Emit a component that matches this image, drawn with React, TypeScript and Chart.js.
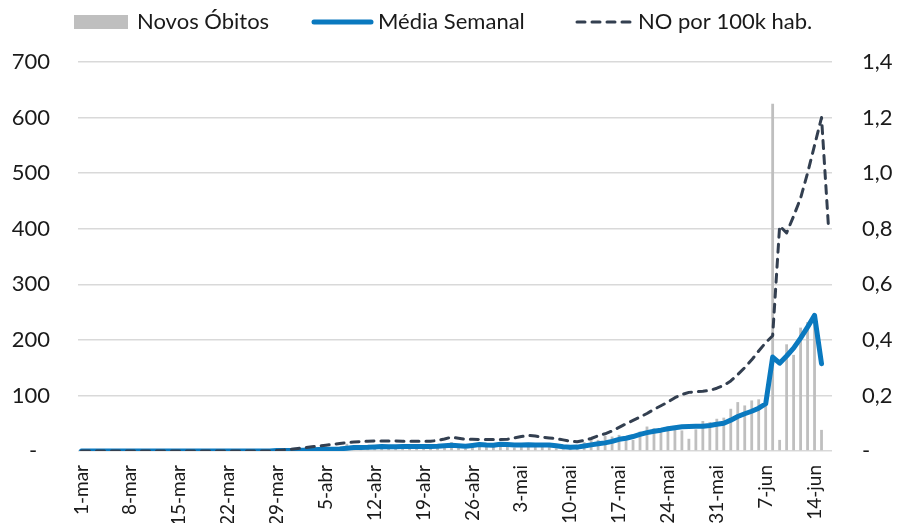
import React, { useEffect, useRef } from "react";
import { Chart, registerables } from "chart.js";

Chart.register(...registerables);

// Categories: daily, 1-mar .. 16-jun
const MONTHS: [string, number][] = [["mar", 31], ["abr", 30], ["mai", 31], ["jun", 16]];
const CATEGORIES: string[] = [];
for (const [m, n] of MONTHS) for (let d = 1; d <= n; d++) CATEGORIES.push(`${d}-${m}`);

// Novos Óbitos (1-mar .. 15-jun)
const NOVOS_OBITOS: (number | null)[] = [
  0, 0, 0, 0, 0, 0, 0, 0, 0, 0,
  0, 0, 0, 0, 0, 0, 0, 0, 0, 0,
  0, 1, 0, 1, 0, 0, 1, 1, 2, 0,
  2, 3, 2, 4, 4, 5, 3, 5, 13, 7,
  5, 9, 8, 10, 4, 6, 10, 11, 6, 9,
  8, 9, 12, 16, 6, 4, 11, 14, 13, 9,
  16, 11, 6, 12, 13, 8, 9, 7, 5, 3,
  4, 9, 16, 22, 20, 27, 26, 29, 19, 20,
  35, 44, 41, 38, 44, 40, 37, 22, 39, 54,
  52, 58, 60, 76, 88, 82, 91, 93, 92, 625,
  20, 192, 173, 222, 232, 238, 38, null,
];

// Média Semanal (1-mar .. 15-jun)
const MEDIA_SEMANAL: (number | null)[] = [
  0, 0, 0, 0, 0, 0, 0, 0, 0, 0,
  0, 0, 0, 0, 0, 0, 0, 0, 0, 0,
  0, 0, 0, 0, 0, 0, 0, 0, 0.7, 0.7,
  1, 1.4, 1.7, 2.3, 2.6, 3.1, 3.3, 3.7, 5.1, 6.1,
  6.3, 6.7, 7.4, 7.9, 7.6, 7.6, 8, 8, 8, 8.1,
  8.1, 8.4, 9.3, 10.4, 9.6, 8.6, 10, 11.6, 10.6, 10.4,
  12, 11.6, 11, 11, 11.4, 11, 10.9, 10.6, 9.3, 7.6,
  6.9, 7, 8.9, 11, 12.9, 14.6, 17.3, 21, 23, 26,
  30, 33, 35.5, 37.5, 40, 42, 43.5, 44, 44.5, 44.5,
  46, 48, 50, 55.5, 62, 67, 71.5, 77, 85, 169,
  158, 171, 185, 203, 223, 244, 157, null,
];

// NO por 100k hab. (1-mar .. 16-jun)
const NO_100K: number[] = [
  0, 0, 0, 0, 0, 0, 0, 0, 0, 0,
  0, 0, 0, 0, 0, 0, 0, 0, 0, 0,
  0, 0, 0, 0, 0, 0, 0, 0, 0.002, 0.004,
  0.006, 0.009, 0.012, 0.015, 0.018, 0.021, 0.024, 0.027, 0.03, 0.032,
  0.034, 0.035, 0.036, 0.036, 0.036, 0.036, 0.035, 0.035, 0.035, 0.035,
  0.035, 0.038, 0.043, 0.05, 0.046, 0.042, 0.042, 0.041, 0.041, 0.041,
  0.041, 0.042, 0.047, 0.052, 0.056, 0.054, 0.05, 0.047, 0.044, 0.04,
  0.035, 0.033, 0.038, 0.045, 0.055, 0.062, 0.072, 0.085, 0.098, 0.11,
  0.122, 0.135, 0.15, 0.163, 0.176, 0.192, 0.203, 0.211, 0.213, 0.215,
  0.218, 0.226, 0.236, 0.252, 0.275, 0.3, 0.328, 0.36, 0.39, 0.415,
  0.81, 0.785, 0.845, 0.91, 1.0, 1.1, 1.2, 0.805,
];

const LEFT_MAX = 700;
const LEFT_STEP = 100;
const RIGHT_MAX = 1.4;
const RIGHT_STEP = 0.2;
const TICK_EVERY = 7;

const BAR_COLOR = "#BFBFBF";
const BLUE = "#0A79BF";
const DARK = "#333F50";
const TEXT = "#1a1a1a";
const GRID = "#D9D9D9";
const FONT = "Lato";

const W = 899;
const H = 540;

const legendPlugin = {
  id: "customLegend",
  afterDraw(chart: any) {
    const ctx = chart.ctx as CanvasRenderingContext2D;
    const ds = chart.data.datasets;
    const y = 22;
    ctx.save();
    ctx.font = `22px ${FONT}`;
    ctx.textBaseline = "middle";
    ctx.textAlign = "left";
    // Novos Óbitos swatch
    ctx.fillStyle = BAR_COLOR;
    ctx.fillRect(74, y - 7, 54, 14);
    ctx.fillStyle = TEXT;
    ctx.fillText(ds[2].label, 137, y);
    // Média Semanal swatch
    ctx.strokeStyle = BLUE;
    ctx.lineWidth = 5;
    ctx.lineCap = "round";
    ctx.beginPath();
    ctx.moveTo(314, y);
    ctx.lineTo(371, y);
    ctx.stroke();
    ctx.fillText(ds[1].label, 378, y);
    // NO por 100k swatch
    ctx.strokeStyle = DARK;
    ctx.lineWidth = 3;
    ctx.lineCap = "round";
    ctx.setLineDash([8, 7]);
    ctx.beginPath();
    ctx.moveTo(577, y);
    ctx.lineTo(633, y);
    ctx.stroke();
    ctx.setLineDash([]);
    ctx.fillText(ds[0].label, 638, y);
    ctx.restore();
  },
};

export default function App() {
  const ref = useRef<HTMLCanvasElement | null>(null);

  useEffect(() => {
    if (!ref.current) return;
    const chart = new Chart(ref.current, {
      type: "bar",
      data: {
        labels: CATEGORIES,
        datasets: [
          {
            type: "line",
            label: "NO por 100k hab.",
            data: NO_100K,
            yAxisID: "y1",
            borderColor: DARK,
            borderWidth: 3,
            borderDash: [8, 7],
            borderCapStyle: "round",
            borderJoinStyle: "round",
            pointRadius: 0,
            tension: 0,
            order: 0,
          } as any,
          {
            type: "line",
            label: "Média Semanal",
            data: MEDIA_SEMANAL,
            yAxisID: "y",
            borderColor: BLUE,
            borderWidth: 5,
            borderCapStyle: "round",
            borderJoinStyle: "round",
            pointRadius: 0,
            tension: 0,
            order: 1,
          } as any,
          {
            type: "bar",
            label: "Novos Óbitos",
            data: NOVOS_OBITOS,
            yAxisID: "y",
            backgroundColor: BAR_COLOR,
            barPercentage: 0.4,
            categoryPercentage: 1,
            order: 2,
          } as any,
        ],
      },
      options: {
        responsive: false,
        animation: false,
        layout: { padding: { top: 62, left: 0, right: 0, bottom: 0 } },
        plugins: { legend: { display: false }, tooltip: { enabled: false } },
        scales: {
          x: {
            type: "category",
            offset: true,
            grid: { display: false, drawTicks: false },
            border: { display: false },
            ticks: {
              autoSkip: false,
              minRotation: 90,
              maxRotation: 90,
              padding: 14,
              color: TEXT,
              font: { family: FONT, size: 19 },
              callback: (_v: any, i: number) => (i % TICK_EVERY === 0 ? CATEGORIES[i] : null),
            },
            afterFit: (s: any) => {
              s.height = H - 451;
            },
          },
          y: {
            position: "left",
            min: 0,
            max: LEFT_MAX,
            grid: { color: GRID, lineWidth: 1.5, drawTicks: false },
            border: { display: false },
            ticks: {
              stepSize: LEFT_STEP,
              padding: 28,
              color: TEXT,
              font: { family: FONT, size: 22 },
              callback: (v: any) => (Number(v) === 0 ? "-\u2007" : String(v)),
            },
            afterFit: (s: any) => {
              s.width = 78;
            },
          },
          y1: {
            position: "right",
            min: 0,
            max: RIGHT_MAX,
            grid: { drawOnChartArea: false, drawTicks: false },
            border: { display: false },
            ticks: {
              stepSize: RIGHT_STEP,
              padding: 30,
              color: TEXT,
              font: { family: FONT, size: 22 },
              callback: (v: any) =>
                Math.abs(Number(v)) < 1e-9 ? "-" : Number(v).toFixed(1).replace(".", ","),
            },
            afterFit: (s: any) => {
              s.width = W - 832;
            },
          },
        },
      } as any,
      plugins: [legendPlugin],
    });
    return () => chart.destroy();
  }, []);

  return (
    <div
      style={{
        position: "fixed",
        left: 0,
        top: 0,
        width: W,
        height: 523,
        overflow: "hidden",
        background: "#fff",
      }}
    >
      <canvas ref={ref} width={W} height={H} style={{ display: "block" }} />
    </div>
  );
}
